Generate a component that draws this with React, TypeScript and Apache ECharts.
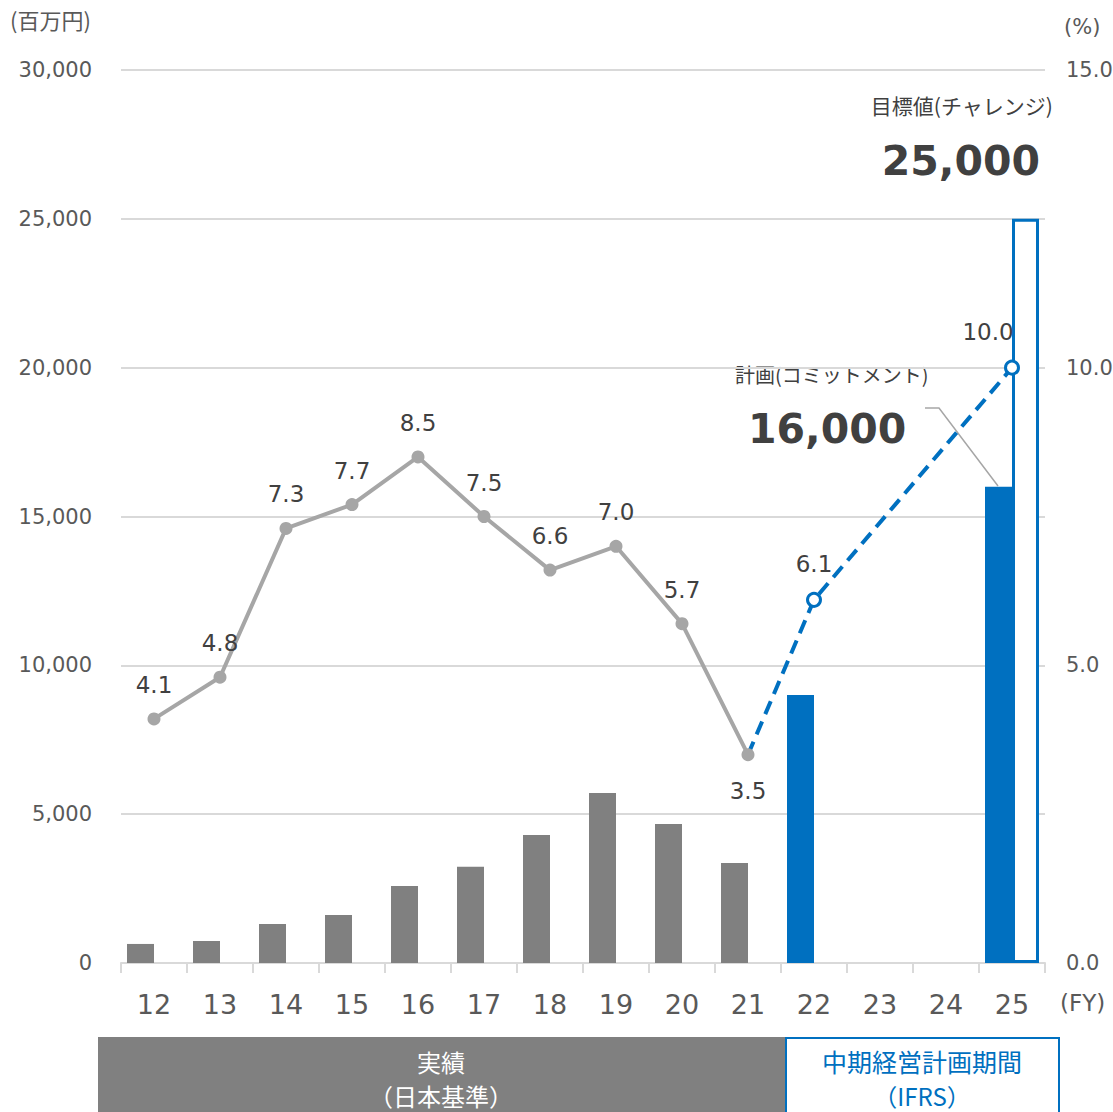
import React, { useEffect, useRef } from "react";
import * as echarts from "echarts";

const categories = ["12", "13", "14", "15", "16", "17", "18", "19", "20", "21", "22", "23", "24", "25"];
const barValues = [640, 740, 1310, 1610, 2590, 3230, 4300, 5710, 4670, 3360, 9000, null, null, 16000];
const barIsPlan = [false, false, false, false, false, false, false, false, false, false, true, false, false, true];
const targetValues = [null, null, null, null, null, null, null, null, null, null, null, null, null, 25000];
const ratioActual = [4.1, 4.8, 7.3, 7.7, 8.5, 7.5, 6.6, 7.0, 5.7, 3.5, null, null, null, null];
const ratioPlan = [null, null, null, null, null, null, null, null, null, 3.5, 6.1, null, null, 10.0];
const leftTicks = { min: 0, max: 30000, interval: 5000 };
const rightTicks = { min: 0, max: 15, interval: 5 };

const GRAY = "#808080";
const LINE_GRAY = "#a6a6a6";
const BLUE = "#0070c0";
const TEXT = "#404040";
const AXIS_TEXT = "#595959";
const FONT = "'DejaVu Sans', 'Noto Sans CJK JP', sans-serif";
const JFONT = "'Noto Sans CJK JP', 'DejaVu Sans', sans-serif";

export default function App() {
  const ref = useRef<HTMLDivElement>(null);
  useEffect(() => {
    if (!ref.current) return;
    const chart = echarts.init(ref.current, undefined, { renderer: "svg" });
    const option: any = {
      animation: false,
      backgroundColor: "#ffffff",
      grid: { left: 121, right: 68, top: 70, bottom: 149, containLabel: false, outerBoundsMode: "none" },
      xAxis: {
        type: "category",
        data: categories,
        axisLine: { lineStyle: { color: "#d9d9d9", width: 2 } },
        axisTick: { show: true, length: 10, lineStyle: { color: "#d9d9d9", width: 2 } },
        axisLabel: { color: AXIS_TEXT, fontSize: 27, margin: 28, fontFamily: FONT },
      },
      yAxis: [
        {
          type: "value",
          min: leftTicks.min,
          max: leftTicks.max,
          interval: leftTicks.interval,
          axisLine: { show: false },
          axisTick: { show: false },
          splitLine: { lineStyle: { color: "#d9d9d9", width: 2 } },
          axisLabel: {
            color: AXIS_TEXT,
            fontSize: 21,
            margin: 29,
            fontFamily: FONT,
            formatter: (v: number) => v.toLocaleString("en-US"),
          },
        },
        {
          type: "value",
          min: rightTicks.min,
          max: rightTicks.max,
          interval: rightTicks.interval,
          axisLine: { show: false },
          axisTick: { show: false },
          splitLine: { show: false },
          axisLabel: {
            color: AXIS_TEXT,
            fontSize: 21,
            margin: 21,
            fontFamily: FONT,
            formatter: (v: number) => v.toFixed(1),
          },
        },
      ],
      series: [
        {
          type: "bar",
          yAxisIndex: 0,
          barWidth: 27,
          barGap: "0%",
          data: barValues.map((v, i) => ({
            value: v,
            itemStyle: { color: barIsPlan[i] ? BLUE : GRAY },
          })),
          z: 2,
        },
        {
          type: "bar",
          yAxisIndex: 0,
          barWidth: 27,
          barGap: "0%",
          data: targetValues,
          itemStyle: { color: "#ffffff", borderColor: BLUE, borderWidth: 3 },
          z: 2,
        },
        {
          type: "line",
          yAxisIndex: 1,
          data: ratioActual.map((v, i) => ({
            value: v,
            label:
              i === 9
                ? { position: "bottom", distance: 18 }
                : { position: "top", distance: 16 },
          })),
          lineStyle: { color: LINE_GRAY, width: 4 },
          itemStyle: { color: LINE_GRAY },
          symbol: "circle",
          symbolSize: 13,
          showSymbol: true,
          label: {
            show: true,
            color: TEXT,
            fontSize: 23,
            fontFamily: FONT,
            formatter: (p: any) => (p.value == null ? "" : Number(p.value).toFixed(1)),
          },
          z: 4,
        },
        {
          type: "line",
          yAxisIndex: 1,
          connectNulls: true,
          data: ratioPlan.map((v, i) => ({
            value: v,
            symbol: i === 9 ? "none" : "circle",
            label:
              i === 13
                ? { show: true, position: "top", distance: 16, offset: [-24, 0] }
                : i === 10
                ? { show: true, position: "top", distance: 16 }
                : { show: false },
          })),
          lineStyle: { color: BLUE, width: 4, type: [14, 8] },
          itemStyle: { color: "#ffffff", borderColor: BLUE, borderWidth: 3 },
          symbol: "circle",
          symbolSize: 13,
          showSymbol: true,
          label: {
            color: TEXT,
            fontSize: 23,
            fontFamily: FONT,
            formatter: (p: any) => (p.value == null ? "" : Number(p.value).toFixed(1)),
          },
          z: 3,
        },
      ],
      graphic: [
        { type: "text", left: 10, top: 8, style: { text: "(百万円)", fill: AXIS_TEXT, font: `22px ${JFONT}` } },
        { type: "text", left: 1064, top: 16, style: { text: "(%)", fill: AXIS_TEXT, font: `21px ${FONT}` } },
        { type: "text", left: 1060, top: 991, style: { text: "(FY)", fill: AXIS_TEXT, font: `23px ${FONT}` } },
        {
          type: "text",
          right: 60,
          top: 94,
          style: { text: "目標値(チャレンジ)", fill: TEXT, font: `21px ${JFONT}` },
        },
        {
          type: "text",
          right: 73,
          top: 140,
          style: { text: "25,000", fill: TEXT, font: `bold 41px ${FONT}` },
        },
        {
          type: "text",
          left: 735,
          top: 364,
          style: { text: "計画(コミットメント)", fill: TEXT, font: `20px ${JFONT}` },
        },
        {
          type: "text",
          left: 748,
          top: 408,
          style: { text: "16,000", fill: TEXT, font: `bold 41px ${FONT}` },
        },
        {
          type: "polyline",
          shape: { points: [[925, 408], [939, 408], [998, 486]] },
          style: { stroke: LINE_GRAY, lineWidth: 1.5, fill: "none" },
          z: 1,
        },
        {
          type: "rect",
          shape: { x: 98, y: 1037, width: 687, height: 80 },
          style: { fill: GRAY },
        },
        {
          type: "text",
          x: 441,
          y: 1061,
          style: { text: "実績", fill: "#ffffff", font: `24px ${JFONT}`, align: "center", verticalAlign: "middle" },
        },
        {
          type: "text",
          x: 441,
          y: 1095,
          style: { text: "（日本基準）", fill: "#ffffff", font: `24px ${JFONT}`, align: "center", verticalAlign: "middle" },
        },
        {
          type: "rect",
          shape: { x: 786, y: 1038, width: 273, height: 80 },
          style: { fill: "#ffffff", stroke: BLUE, lineWidth: 2 },
        },
        {
          type: "text",
          x: 922,
          y: 1061,
          style: { text: "中期経営計画期間", fill: BLUE, font: `25px ${JFONT}`, align: "center", verticalAlign: "middle" },
        },
        {
          type: "text",
          x: 922,
          y: 1095,
          style: { text: "（IFRS）", fill: BLUE, font: `24px ${JFONT}`, align: "center", verticalAlign: "middle" },
        },
      ],
    };
    chart.setOption(option);
    return () => chart.dispose();
  }, []);
  return (
    <div
      ref={ref}
      style={{ position: "absolute", left: 0, top: 0, width: 1113, height: 1112 }}
    />
  );
}
